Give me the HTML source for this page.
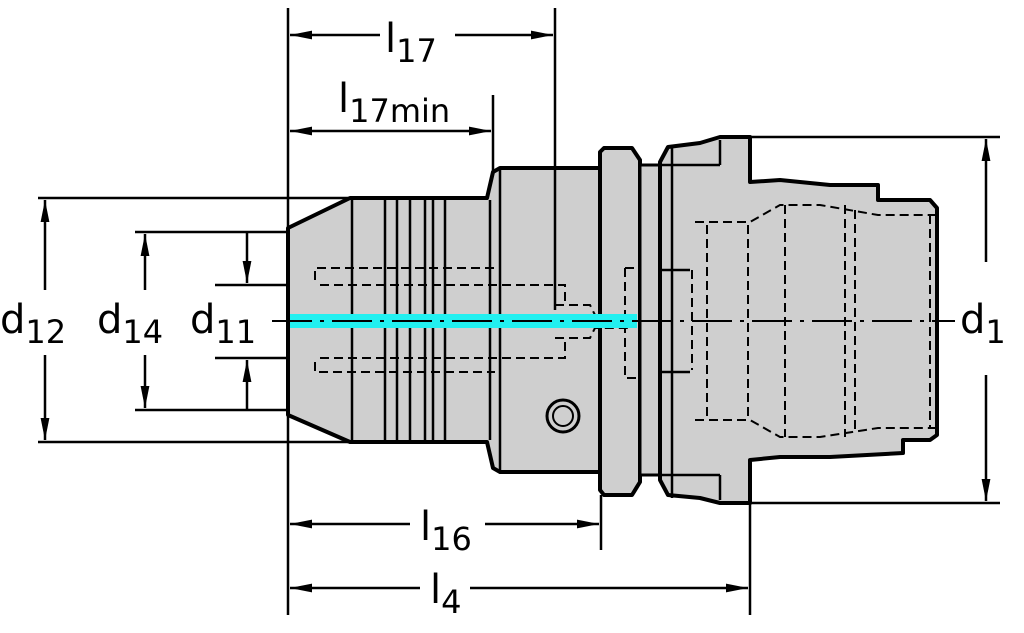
<!DOCTYPE html>
<html><head><meta charset="utf-8"><style>
html,body{margin:0;padding:0;background:#fff;}
svg{display:block}
text{font-family:"DejaVu Sans","Liberation Sans",sans-serif;fill:#000}
</style></head><body>
<svg width="1024" height="633" viewBox="0 0 1024 633" xmlns="http://www.w3.org/2000/svg">
<defs>
<marker id="a" viewBox="0 0 10 10" refX="10" refY="5" markerWidth="10" markerHeight="10" markerUnits="userSpaceOnUse" orient="auto-start-reverse">
<path d="M0,1.5 L10,5 L0,8.5 z" fill="#000"/></marker>
<marker id="b" viewBox="0 0 20 10" refX="20" refY="5" markerWidth="22" markerHeight="11" markerUnits="userSpaceOnUse" orient="auto-start-reverse">
<path d="M0,1 L20,5 L0,9 z" fill="#000"/></marker>
</defs>

<!-- body fill -->
<g fill="#cfcfcf" stroke="#000" stroke-width="4" stroke-linejoin="round">
<path d="M288,228 L350,198 L487,198 L493,172 L500,168 L600,168 L600,472 L500,472 L493,468 L487,442 L350,442 L288,415 Z"/>
<path d="M604,148 L632,148 L640,160 L640,482 L632,495 L604,495 L600,490 L600,152 Z"/>
<rect x="640" y="165" width="20" height="310" stroke-width="3"/>
<path d="M660,162 L668,147 L700,143 L720,137 L750,137 L750,182 L780,180 L830,185 L878,185 L878,200 L930,200 L937,208 L937,435 L930,440 L903,440 L903,453 L830,457 L780,457 L750,460 L750,503 L720,503 L700,498 L668,495 L660,480 Z"/>
</g>
<!-- internal solid lines -->
<g stroke="#000" stroke-width="2.5" fill="none">
<line x1="352" y1="200" x2="352" y2="440"/>
<line x1="385" y1="200" x2="385" y2="440"/>
<line x1="397" y1="200" x2="397" y2="440"/>
<line x1="410" y1="200" x2="410" y2="440"/>
<line x1="425" y1="200" x2="425" y2="440"/>
<line x1="433" y1="200" x2="433" y2="440"/>
<line x1="445" y1="200" x2="445" y2="440"/>
<line x1="490" y1="200" x2="490" y2="440"/>
<line x1="500" y1="170" x2="500" y2="470"/>
<line x1="672" y1="145" x2="672" y2="498"/>
<line x1="660" y1="165" x2="720" y2="165"/>
<line x1="660" y1="475" x2="720" y2="475"/>
<line x1="720" y1="140" x2="720" y2="165"/>
<line x1="720" y1="475" x2="720" y2="500"/>
<line x1="660" y1="270" x2="690" y2="270"/>
<line x1="660" y1="372" x2="690" y2="372"/>
<circle cx="563" cy="416" r="16" stroke-width="3"/>
<circle cx="563" cy="416" r="10" stroke-width="2"/>
</g>
<!-- hidden lines -->
<g stroke="#000" stroke-width="2" fill="none" stroke-dasharray="9,5">
<path d="M315,280 L315,268 L495,268"/>
<path d="M320,285 L565,285 L565,305"/>
<path d="M315,362 L315,372 L495,372"/>
<path d="M320,358 L565,358 L565,340"/>
<path d="M555,305 L590,305 L595,315 L630,315"/>
<path d="M555,338 L590,338 L595,328 L630,328"/>
<path d="M625,268 L625,378 L640,378"/>
<path d="M625,268 L640,268"/>
<path d="M692,270 L692,370"/>
<path d="M695,222 L750,222 L780,205 L820,205 L878,215 L935,215"/>
<path d="M695,420 L750,420 L780,437 L820,437 L878,428 L935,428"/>
<path d="M707,225 L707,420"/>
<path d="M748,225 L748,420"/>
<path d="M785,205 L785,437"/>
<path d="M845,205 L845,437"/>
<path d="M855,210 L855,432"/>
<path d="M930,215 L930,428"/>
</g>
<!-- cyan band -->
<rect x="290" y="314" width="347" height="14" fill="#22f0f0"/>
<!-- centerline -->
<line x1="272" y1="321" x2="955" y2="321" stroke="#000" stroke-width="2" stroke-dasharray="40,8,4,8"/>

<!-- dimension lines -->
<g stroke="#000" stroke-width="2.5" fill="none">
<line x1="288" y1="8" x2="288" y2="615"/>
<line x1="555" y1="8" x2="555" y2="310"/>
<line x1="493" y1="95" x2="493" y2="172"/>
<line x1="601" y1="495" x2="601" y2="550"/>
<line x1="750" y1="503" x2="750" y2="615"/>
<line x1="750" y1="137" x2="1000" y2="137"/>
<line x1="750" y1="503" x2="1000" y2="503"/>
<line x1="38" y1="198" x2="350" y2="198"/>
<line x1="38" y1="442" x2="350" y2="442"/>
<line x1="135" y1="232" x2="290" y2="232"/>
<line x1="135" y1="410" x2="290" y2="410"/>
<line x1="215" y1="285" x2="290" y2="285"/>
<line x1="215" y1="358" x2="290" y2="358"/>
</g>
<g stroke="#000" stroke-width="2.5" fill="none" marker-end="url(#b)">
<line x1="380" y1="35" x2="290" y2="35"/>
<line x1="455" y1="35" x2="553" y2="35"/>
<line x1="390" y1="131" x2="290" y2="131"/>
<line x1="390" y1="131" x2="491" y2="131"/>
<line x1="410" y1="524" x2="290" y2="524"/>
<line x1="485" y1="524" x2="599" y2="524"/>
<line x1="420" y1="588" x2="290" y2="588"/>
<line x1="470" y1="588" x2="748" y2="588"/>
<line x1="986" y1="262" x2="986" y2="139"/>
<line x1="986" y1="375" x2="986" y2="501"/>
<line x1="45" y1="290" x2="45" y2="200"/>
<line x1="45" y1="355" x2="45" y2="440"/>
<line x1="145" y1="290" x2="145" y2="234"/>
<line x1="145" y1="355" x2="145" y2="408"/>
<line x1="247" y1="232" x2="247" y2="283"/>
<line x1="247" y1="410" x2="247" y2="360"/>
</g>

<!-- labels -->
<text x="385" y="52" font-size="40">l<tspan font-size="32" dy="10">17</tspan></text>
<text x="338" y="112" font-size="40">l<tspan font-size="32" dy="10">17min</tspan></text>
<text x="420" y="540" font-size="40">l<tspan font-size="32" dy="10">16</tspan></text>
<text x="430" y="603" font-size="40">l<tspan font-size="32" dy="10">4</tspan></text>
<text x="0" y="333" font-size="40">d<tspan font-size="32" dy="10">12</tspan></text>
<text x="97" y="333" font-size="40">d<tspan font-size="32" dy="10">14</tspan></text>
<text x="190" y="333" font-size="40">d<tspan font-size="32" dy="10">11</tspan></text>
<text x="960" y="333" font-size="40">d<tspan font-size="32" dy="10">1</tspan></text>
</svg>
</body></html>
